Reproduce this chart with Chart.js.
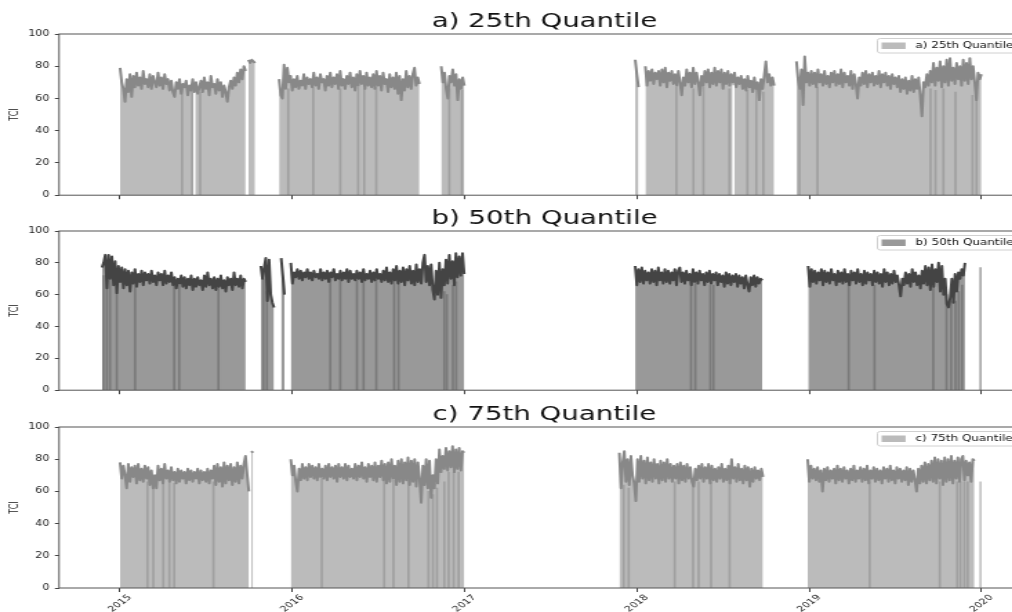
<!DOCTYPE html>
<html>
<head>
<meta charset="utf-8">
<script src="https://cdn.jsdelivr.net/npm/chart.js@4.4.1/dist/chart.umd.min.js"></script>
<style>
  html, body { margin: 0; padding: 0; background: #fff; overflow: hidden; width: 1012px; height: 612px; }
  canvas { position: absolute; left: 0; }
</style>
</head>
<body>
<!-- canvases are drawn narrow and stretched sideways, like the reference figure -->
<canvas id="panelA" width="746" height="204" style="top:0px;width:1029.5px;height:204px"></canvas>
<canvas id="panelB" width="746" height="202" style="top:197px;width:1029.5px;height:202px"></canvas>
<canvas id="panelC" width="746" height="219" style="top:393px;width:1029.5px;height:219px"></canvas>
<script>
// ===================================
// DATA
// x = decimal year, one value every 3.5 days inside each run of data
// ===================================
const STEP = 3.5 / 365.25;
const YEARS = [2015, 2016, 2017, 2018, 2019, 2020];
const Y_TICKS = [0, 20, 40, 60, 80, 100];

// a) 25th quantile
const A_STARTS = [2015.0, 2015.745, 2015.923, 2016.864, 2017.99, 2018.049, 2018.926];
const A_VALUES = [
  [79,70,66,58,72,64,75,61,74,67, 76,68,73,66,77,69,72,67,75,66, 74,70,67,76,68,73,66,75,69,72,
   65,71,64,61,70,66,72,63,69,67, 71,62,68,65,72,64,70,63,67,71, 64,73,66,70,62,74,67,69,63,72,
   65,70,61,68,64,58,67,71,66,73, 68,76,70,78,72,80,77],
  [84,82,84,83,82],
  [72,62,60,81,66,79,70,74,65,72, 67,74,66,71,68,75,66,73,69,72, 67,76,68,73,66,75,70,72,65,74,
   68,76,67,73,69,75,66,77,68,72, 66,74,69,76,67,73,65,75,68,77, 69,74,66,76,68,73,67,75,66,77,
   68,74,65,76,69,72,64,75,67,73, 66,76,63,74,59,72,65,77,67,74, 66,75,79,68,73,69],
  [80,70,76,66,60,74,70,78,68,75,59,72,66,73,68],
  [84,75,67],
  [80,68,77,71,78,69,76,72,77,68, 78,70,79,67,76,71,77,69,75,68, 77,70,62,73,68,78,70,76,67,79,
   69,76,70,62,74,68,77,70,78,67, 76,69,79,68,77,70,78,66,76,69, 77,68,75,70,76,67,73,69,74,66,
   72,65,74,67,71,64,73,66,70,59, 72,66,74,83,70,75,68,73,68],
  [83,72,66,78,56,86,70,76,68,77, 69,76,67,78,70,75,68,77,69,74, 67,76,70,77,68,75,69,78,67,76,
   70,74,68,77,66,75,69,60,73,68, 76,69,77,67,75,70,76,68,74,69, 77,67,75,70,76,68,74,66,75,69,
   73,67,74,64,72,66,73,63,71,65, 74,64,72,66,73,62,49,70,67,75, 68,77,70,82,68,79,71,83,67,80,
   70,84,68,85,71,79,69,82,72,80, 68,84,71,82,69,85,72,80,70,59, 76,72,75]
];
// single missing days: darker seams and white cuts in the fill
const A_SEAMS = [[2015.360,66],[2015.418,65],[2015.465,64],[2015.976,66],[2016.121,67],[2016.278,66],[2016.382,67],[2016.417,66],[2016.487,67],[2016.911,66],[2016.984,65],[2018.229,67],[2018.328,66],[2018.386,67],[2018.537,66],[2018.641,65],[2018.693,66],[2018.734,64],[2018.943,66],[2019.048,67],[2019.704,66],[2019.733,65],[2019.779,66],[2019.849,64],[2019.948,62],[2019.971,63]];
const A_CUTS = [[2015.431,66],[2018.560,68]];
const A_SINGLE = [];

// b) 50th quantile
const B_STARTS = [2014.895, 2015.817, 2015.935, 2015.991, 2017.99, 2018.994];
const B_VALUES = [
  [77,80,85,64,85,70,84,66,81,61, 78,68,77,64,76,66,75,62,74,67, 76,65,73,68,75,66,74,69,73,67,
   75,68,72,66,74,69,73,66,75,67, 72,68,74,66,71,64,70,67,72,65, 71,64,70,66,72,63,70,65,71,66,
   69,63,72,65,74,66,70,64,71,63, 70,65,72,64,69,62,71,66,70,63, 74,66,70,65,72,64,70,68],
  [78,70,77,83,56,82,60,55,52],
  [83,72,60],
  [80,67,74,71,76,70,75,69,74,71, 76,70,74,69,75,71,73,70,76,69, 74,70,75,68,74,71,76,69,73,70,
   75,69,74,70,76,68,75,70,73,69, 75,70,74,68,76,69,73,70,75,68, 74,69,76,70,73,68,75,69,77,68,
   74,67,76,69,78,67,75,68,77,66, 76,69,78,67,75,66,79,68,76,67, 80,85,68,78,66,79,63,57,75,60,
   80,58,76,66,82,67,85,70,81,66, 86,71,84,72,86,73],
  [78,66,76,68,77,67,75,69,74,67, 76,68,75,66,77,69,74,67,76,68, 75,67,74,69,76,66,75,77,68,74,
   67,75,69,73,66,76,68,74,67,75, 69,73,66,74,68,75,67,73,69,74, 66,73,68,72,65,74,67,73,66,72,
   68,73,65,72,67,71,64,72,66,62, 71,66,72,65,71,67,70,69],
  [78,65,76,68,75,67,74,69,76,66, 75,68,74,67,76,69,73,66,75,68, 74,67,76,68,73,66,75,69,74,67,
   76,68,73,66,75,67,74,69,73,66, 75,68,74,67,73,65,76,68,74,66, 73,67,75,68,72,66,59,70,66,74,
   67,73,65,76,68,74,66,72,64,75, 67,78,66,77,63,79,65,76,68,80, 62,78,60,70,54,52,58,70,55,73,
   62,74,70,76,72,80]
];
const B_SEAMS = [[2014.903,72],[2014.923,70],[2014.942,72],[2014.981,68],[2015.087,68],[2015.314,66],[2015.343,66],[2015.571,65],[2015.832,70],[2015.852,62],[2016.220,70],[2016.278,70],[2016.375,69],[2016.413,70],[2016.487,69],[2016.591,69],[2016.616,70],[2016.882,62],[2016.897,60],[2016.932,66],[2016.951,68],[2018.314,67],[2018.339,67],[2018.426,66],[2018.444,66],[2019.229,67],[2019.379,66],[2019.720,65],[2019.797,60],[2019.824,56],[2019.849,56],[2019.868,62],[2019.888,66]];
const B_CUTS = [];
const B_SINGLE = [[2019.994,77]];

// c) 75th quantile
const C_STARTS = [2015.0, 2015.762, 2015.991, 2017.898, 2018.991];
const C_VALUES = [
  [78,68,76,70,62,77,66,75,69,76, 65,77,67,74,66,76,68,75,64,73, 62,70,62,76,67,74,65,77,68,73,
   66,75,67,72,65,74,66,73,68,72, 65,74,67,73,66,72,68,74,65,73, 67,72,66,74,65,73,68,76,64,77,
   66,75,63,78,65,76,67,77,64,75, 66,78,65,76,68,77,82,70,60],
  [85,84],
  [80,70,76,66,60,74,67,77,68,75, 67,77,69,76,68,75,67,77,69,74, 68,76,67,77,69,75,68,76,66,77,
   69,75,68,77,67,76,69,74,68,77, 67,76,69,78,68,75,66,77,69,76, 67,78,66,76,69,79,67,77,65,78,
   66,80,68,76,64,79,66,80,65,78, 67,81,64,79,66,80,63,78,68,53, 76,64,80,62,79,56,70,62,80,65,
   86,72,82,74,87,73,85,75,88,72, 86,74,87,73,85,84],
  [84,62,78,85,66,80,64,82,70,65, 54,80,66,82,68,79,65,81,67,78, 66,80,68,77,65,79,67,78,66,80,
   68,77,66,76,68,77,65,78,67,76, 66,77,68,75,66,63,74,67,76,68, 77,66,75,68,77,65,76,67,74,66,
   75,68,77,66,74,67,76,65,80,68, 75,66,77,67,74,65,76,67,75,63, 74,66,75,68,73,67,74,69],
  [80,66,76,68,74,67,75,66,73,60, 74,67,75,66,73,68,74,65,76,67, 74,66,75,68,73,65,74,67,76,66,
   73,68,75,66,74,67,76,65,73,68, 75,66,74,67,73,65,75,68,74,66, 76,67,73,65,75,68,74,66,73,67,
   75,64,74,66,73,67,60,74,65,76, 66,78,65,77,67,79,66,81,65,80, 68,79,64,81,66,80,67,82,65,79,
   68,81,66,80,82,67,79,70,78,66, 80,79]
];
const C_SEAMS = [[2015.159,66],[2015.193,65],[2015.251,66],[2015.286,66],[2015.314,65],[2015.542,66],[2016.171,68],[2016.533,68],[2016.587,67],[2016.674,67],[2016.790,60],[2016.816,58],[2016.839,62],[2016.882,66],[2016.907,72],[2016.936,72],[2016.965,72],[2017.923,64],[2017.952,62],[2018.219,66],[2018.326,66],[2018.358,66],[2018.430,66],[2018.538,66],[2019.351,66],[2019.758,66],[2019.859,66],[2019.878,66],[2019.901,66],[2019.920,66]];
const C_CUTS = [];
const C_SINGLE = [[2019.994,66]];

// ===================================
// Helpers
// ===================================
const X_MIN = 2014.6457;
const X_MAX = 2020.2816;
const Y_AXIS_W = 42.75;

Chart.defaults.font.family = '"DejaVu Sans", sans-serif';

// turn runs of values into points, with a null between runs
function buildLine(starts, runs) {
  const pts = [];
  runs.forEach((vals, k) => {
    vals.forEach((v, i) => pts.push({ x: starts[k] + i * STEP, y: v }));
    pts.push({ x: starts[k] + (vals.length - 0.5) * STEP, y: null });
  });
  return pts;
}

function toPoints(pairs) {
  return pairs.map(p => ({ x: p[0], y: p[1] }));
}

// box round the plot area (all four spines)
const framePlugin = {
  id: 'frame',
  afterDatasetsDraw(chart) {
    const { ctx, chartArea: a } = chart;
    ctx.save();
    ctx.strokeStyle = '#555';
    ctx.lineWidth = 1;
    ctx.strokeRect(a.left, a.top, a.right - a.left, a.bottom - a.top);
    ctx.restore();
  }
};

// legend in the upper right corner, cut by the figure edge like the original
const cornerLegend = {
  id: 'cornerLegend',
  afterDraw(chart) {
    const ds = chart.data.datasets[0];
    const { ctx, chartArea: a } = chart;
    const boxX = a.right - 110.5;
    const boxY = a.top + 4.5;
    const textX = boxX + 27.5;
    ctx.save();
    ctx.font = '8.7px "DejaVu Sans"';
    const w = ctx.measureText(ds.label).width;
    ctx.beginPath();
    ctx.roundRect(boxX, boxY, textX + w + 6 - boxX, 14.5, 2);
    ctx.fillStyle = 'rgba(255,255,255,0.85)';
    ctx.fill();
    ctx.strokeStyle = '#d0d0d0';
    ctx.lineWidth = 1;
    ctx.stroke();
    ctx.fillStyle = ds.backgroundColor;
    ctx.fillRect(boxX + 3, boxY + 4, 17.4, 6.5);
    ctx.fillStyle = '#111';
    ctx.textBaseline = 'middle';
    ctx.fillText(ds.label, textX, boxY + 7.5);
    ctx.restore();
  }
};

// rotated year labels, centred on their ticks (bottom panel only)
const yearLabels = {
  id: 'yearLabels',
  afterDraw(chart) {
    const { ctx, chartArea: a } = chart;
    const xs = chart.scales.x;
    ctx.save();
    ctx.font = '8px "DejaVu Sans"';
    ctx.fillStyle = '#222';
    ctx.textAlign = 'center';
    ctx.textBaseline = 'middle';
    xs.ticks.forEach(t => {
      ctx.save();
      ctx.translate(xs.getPixelForValue(t.value), a.bottom + 15.5);
      ctx.rotate(-Math.PI / 4);
      ctx.fillText(String(t.value), 0, 0);
      ctx.restore();
    });
    ctx.restore();
  }
};

// ===================================
// One panel = one chart
// ===================================
function makePanel(id, p) {
  const plugins = [framePlugin, cornerLegend];
  if (p.yearLabels) plugins.push(yearLabels);

  new Chart(document.getElementById(id), {
    type: 'line',
    data: {
      datasets: [
        {
          label: p.label,
          data: buildLine(p.starts, p.values),
          borderColor: p.line,
          backgroundColor: p.fill,
          borderWidth: 2,
          borderJoinStyle: 'round',
          pointRadius: 0,
          fill: 'origin',
          spanGaps: false,
          order: 0
        },
        { type: 'bar', data: toPoints(p.seams), backgroundColor: p.seam, barThickness: 1, grouped: false, order: 1 },
        { type: 'bar', data: toPoints(p.cuts), backgroundColor: '#ffffff', barThickness: 1, grouped: false, order: 1 },
        { type: 'bar', data: toPoints(p.single), backgroundColor: p.singleColor, barThickness: 1, grouped: false, order: 1 }
      ]
    },
    options: {
      responsive: false,
      animation: false,
      devicePixelRatio: 1,
      events: [],
      layout: { padding: 0 },
      plugins: {
        legend: { display: false },
        tooltip: { enabled: false },
        filler: { drawTime: 'beforeDatasetsDraw' },
        title: {
          display: true,
          text: p.title,
          fullSize: false,
          color: '#111',
          font: { size: 20, weight: 'normal' },
          padding: { top: 10, bottom: 0 }
        }
      },
      scales: {
        x: {
          type: 'linear',
          min: X_MIN,
          max: X_MAX,
          offset: false,
          afterBuildTicks: s => { s.ticks = YEARS.map(v => ({ value: v })); },
          afterFit: s => { s.height = p.xAxisH; },
          ticks: { display: false },
          grid: { drawOnChartArea: false, drawTicks: true, tickLength: 4, color: '#444', offset: false },
          border: { display: false }
        },
        y: {
          min: 0,
          max: 100,
          afterBuildTicks: s => { s.ticks = Y_TICKS.map(v => ({ value: v })); },
          afterFit: s => { s.width = Y_AXIS_W; },
          ticks: { font: { size: 8 }, color: '#222', padding: 4 },
          grid: { drawOnChartArea: false, drawTicks: true, tickLength: 3, color: '#444' },
          border: { display: false },
          title: { display: true, text: 'TCI', font: { size: 8 }, color: '#222', padding: { top: 6, bottom: 0 } }
        }
      }
    },
    plugins: plugins
  });
}

makePanel('panelA', {
  title: 'a) 25th Quantile', label: 'a) 25th Quantile',
  starts: A_STARTS, values: A_VALUES, seams: A_SEAMS, cuts: A_CUTS, single: A_SINGLE,
  line: '#888888', fill: '#bbbbbb', seam: '#a0a0a0', singleColor: '#c4c4c4', xAxisH: 7
});
makePanel('panelB', {
  title: 'b) 50th Quantile', label: 'b) 50th Quantile',
  starts: B_STARTS, values: B_VALUES, seams: B_SEAMS, cuts: B_CUTS, single: B_SINGLE,
  line: '#444444', fill: '#999999', seam: '#7a7a7a', singleColor: '#a8a8a8', xAxisH: 7
});
makePanel('panelC', {
  title: 'c) 75th Quantile', label: 'c) 75th Quantile',
  starts: C_STARTS, values: C_VALUES, seams: C_SEAMS, cuts: C_CUTS, single: C_SINGLE,
  line: '#888888', fill: '#bbbbbb', seam: '#a0a0a0', singleColor: '#c4c4c4', xAxisH: 24, yearLabels: true
});
</script>
</body>
</html>
